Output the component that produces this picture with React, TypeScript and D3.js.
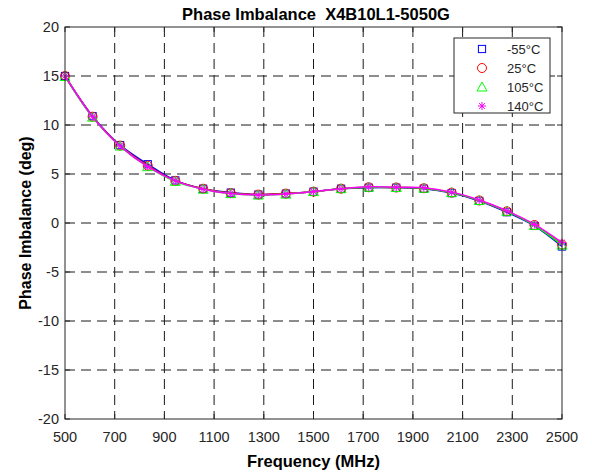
import React from "react";
import * as d3 from "d3";

const frequencies = [500, 611, 722, 833, 944, 1056, 1167, 1278, 1389, 1500, 1611, 1722, 1833, 1944, 2056, 2167, 2278, 2389, 2500];
const seriesM55 = [15.0, 10.9, 7.95, 6.0, 4.35, 3.5, 3.1, 2.9, 3.0, 3.2, 3.5, 3.6, 3.6, 3.5, 3.05, 2.25, 1.1, -0.3, -2.4];
const series25 = [15.0, 10.85, 7.9, 5.85, 4.3, 3.5, 3.05, 2.9, 3.0, 3.2, 3.5, 3.65, 3.62, 3.55, 3.1, 2.3, 1.2, -0.2, -2.2];
const series105 = [14.95, 10.8, 7.85, 5.75, 4.25, 3.45, 3.0, 2.85, 2.95, 3.2, 3.5, 3.65, 3.62, 3.55, 3.1, 2.3, 1.2, -0.25, -2.25];
const series140 = [15.0, 10.85, 7.85, 5.75, 4.3, 3.45, 3.0, 2.85, 2.95, 3.2, 3.5, 3.7, 3.65, 3.6, 3.15, 2.35, 1.25, -0.15, -2.0];
const seriesNames = ["-55°C", "25°C", "105°C", "140°C"];
const xTicks = [500, 700, 900, 1100, 1300, 1500, 1700, 1900, 2100, 2300, 2500];
const yTicks = [-20, -15, -10, -5, 0, 5, 10, 15, 20];

const W = 592, H = 472;
const L = 65, R = 562, T = 27, B = 419;
const colors = ["#0000ff", "#ff0000", "#00ff00", "#ff00ff"];
const markers = ["square", "circle", "triangle", "asterisk"];
const allSeries = [seriesM55, series25, series105, series140];
const font = "'Liberation Sans', Arial, sans-serif";

function Marker({ type, x, y, color }: { type: string; x: number; y: number; color: string }) {
  const s = 3.6;
  if (type === "square")
    return <rect x={x - s} y={y - s} width={2 * s} height={2 * s} fill="none" stroke={color} strokeWidth={1} />;
  if (type === "circle")
    return <circle cx={x} cy={y} r={4.5} fill="none" stroke={color} strokeWidth={1} />;
  if (type === "triangle")
    return (
      <path
        d={`M${x},${y - 5}L${x + 5},${y + 4}L${x - 5},${y + 4}Z`}
        fill="none"
        stroke={color}
        strokeWidth={1}
      />
    );
  const r = 4;
  const d = r * 0.72;
  return (
    <path
      d={`M${x - r},${y}L${x + r},${y}M${x},${y - r}L${x},${y + r}M${x - d},${y - d}L${x + d},${y + d}M${x - d},${y + d}L${x + d},${y - d}`}
      stroke={color}
      strokeWidth={1}
    />
  );
}

export default function App() {
  const x = d3.scaleLinear().domain([500, 2500]).range([L, R]);
  const y = d3.scaleLinear().domain([-20, 20]).range([B, T]);
  const line = d3
    .line<number>()
    .x((_, i) => x(frequencies[i]))
    .y((d) => y(d))
    .curve(d3.curveCatmullRom.alpha(0.5));

  const lx = 454, ly = 38, lw = 96, lh = 75;

  return (
    <svg width={W} height={H} style={{ position: "absolute", left: 0, top: 0, background: "#fff" }}>
      <rect x={0} y={0} width={W} height={H} fill="#fff" />
      <rect x={L} y={T} width={R - L} height={B - T} fill="#fff" />
      {/* grid */}
      <g stroke="#1a1a1a" strokeWidth={1} strokeDasharray="10,6">
        {xTicks.slice(1, -1).map((t) => (
          <line key={"gx" + t} x1={x(t)} x2={x(t)} y1={T} y2={B} />
        ))}
        {yTicks.slice(1, -1).map((t) => (
          <line key={"gy" + t} x1={L} x2={R} y1={y(t)} y2={y(t)} />
        ))}
      </g>
      {/* ticks */}
      <g stroke="#262626" strokeWidth={1}>
        {xTicks.map((t) => (
          <g key={"tx" + t}>
            <line x1={x(t)} x2={x(t)} y1={B} y2={B - 5} />
            <line x1={x(t)} x2={x(t)} y1={T} y2={T + 5} />
          </g>
        ))}
        {yTicks.map((t) => (
          <g key={"ty" + t}>
            <line x1={L} x2={L + 5} y1={y(t)} y2={y(t)} />
            <line x1={R} x2={R - 5} y1={y(t)} y2={y(t)} />
          </g>
        ))}
      </g>
      {/* series */}
      {allSeries.map((s, i) => (
        <g key={"s" + i}>
          <path d={line(s) || ""} fill="none" stroke={colors[i]} strokeWidth={1.5} />
          {s.map((v, j) => (
            <Marker key={j} type={markers[i]} x={x(frequencies[j])} y={y(v)} color={colors[i]} />
          ))}
        </g>
      ))}
      {/* box */}
      <rect x={L} y={T} width={R - L} height={B - T} fill="none" stroke="#262626" strokeWidth={1} />
      {/* tick labels */}
      <g fontFamily={font} fontSize={14.5} fill="#262626">
        {xTicks.map((t) => (
          <text key={"lx" + t} x={x(t)} y={B + 23} textAnchor="middle">
            {t}
          </text>
        ))}
        {yTicks.map((t) => (
          <text key={"ly" + t} x={L - 6} y={y(t) + 5} textAnchor="end">
            {t}
          </text>
        ))}
      </g>
      <text x={(L + R) / 2} y={467} textAnchor="middle" fontFamily={font} fontSize={16.5} fontWeight="bold" fill="#000">
        Frequency (MHz)
      </text>
      <text
        transform={`translate(31,${(T + B) / 2}) rotate(-90)`}
        textAnchor="middle"
        fontFamily={font}
        fontSize={16}
        fontWeight="bold"
        fill="#000"
      >
        Phase Imbalance (deg)
      </text>
      <text x={316} y={20} textAnchor="middle" fontFamily={font} fontSize={16.5} fontWeight="bold" fill="#000" style={{ whiteSpace: "pre" }}>
        {"Phase Imbalance  X4B10L1-5050G"}
      </text>
      {/* legend */}
      <rect x={lx} y={ly} width={lw} height={lh} fill="#fff" stroke="#262626" strokeWidth={1} />
      {seriesNames.map((n, i) => {
        const yy = ly + 11 + i * 19;
        return (
          <g key={"lg" + i}>
            <Marker type={markers[i]} x={482} y={yy} color={colors[i]} />
            <text x={507} y={yy + 4.5} fontFamily={font} fontSize={13} fill="#262626">
              {n}
            </text>
          </g>
        );
      })}
    </svg>
  );
}
